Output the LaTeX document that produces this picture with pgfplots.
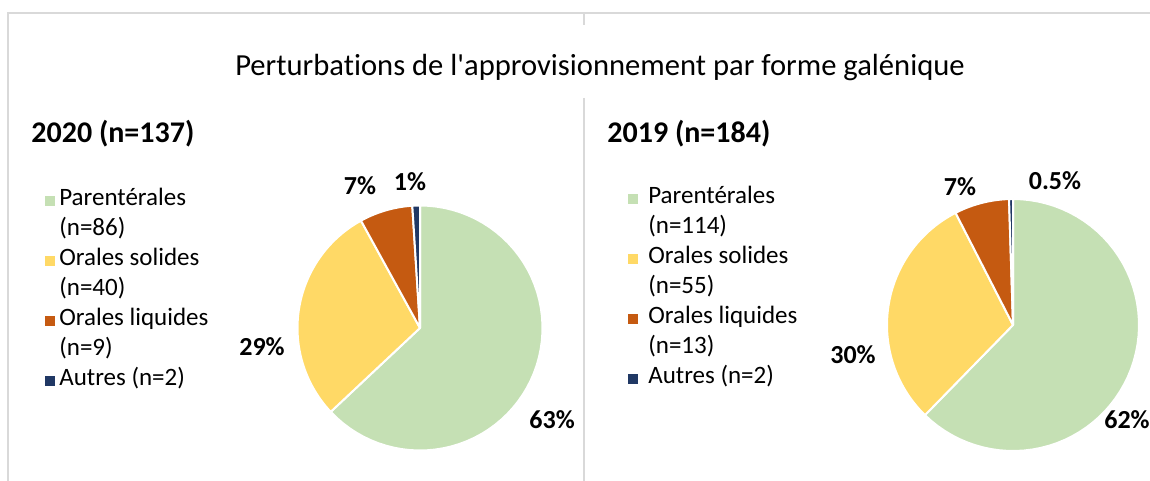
\documentclass[border=0pt]{standalone}
\usepackage{fontspec}
\setmainfont{Carlito}[Ligatures={TeXOff, NoCommon}]
\usepackage{pgfplots}
\usepackage{pgfplotstable}
\pgfplotsset{compat=1.18}

\definecolor{cParent}{HTML}{C5E0B4}
\definecolor{cSolide}{HTML}{FFD966}
\definecolor{cLiquide}{HTML}{C55A11}
\definecolor{cAutre}{HTML}{203864}
\definecolor{cFrame}{HTML}{D9D9D9}

% parts (%) as drawn in each pie, clockwise from 12 o'clock
\pgfplotstableread{
forme pct
0 63
1 29
2 7
3 1
}\dataA
\pgfplotstableread{
forme pct
0 62
1 30
2 7
3 0.5
}\dataB

\newcommand\piecol[1]{\ifcase#1 cParent\or cSolide\or cLiquide\or cAutre\fi}

% one filled sector per row of the table
\newcommand\drawpie[1]{%
  \def\tot{0}%
  \pgfplotsforeachungrouped \i in {0,...,3}{%
    \pgfplotstablegetelem{\i}{pct}\of{#1}%
    \pgfmathsetmacro\tot{\tot+\pgfplotsretval}%
  }%
  \def\cum{0}%
  \pgfplotsforeachungrouped \i in {0,...,3}{%
    \pgfplotstablegetelem{\i}{pct}\of{#1}%
    \pgfmathsetmacro\angA{90-360*(\cum/\tot)}%
    \pgfmathsetmacro\cum{\cum+\pgfplotsretval}%
    \pgfmathsetmacro\angB{90-360*(\cum/\tot)}%
    \edef\sector{\noexpand\addplot[forget plot, fill=\piecol{\i}, draw=white,
      line width=1pt, line join=round, domain=\angB:\angA, samples=60]
      ({cos(x)}, {sin(x)}) -- (axis cs:0,0) -- cycle;}%
    \sector
  }%
}

\pgfplotsset{
  pie/.style={
    hide axis, scale only axis, clip=false,
    xmin=-1, xmax=1, ymin=-1, ymax=1,
    anchor=south west,
    legend cell align=left,
    legend style={draw=none, fill=none, anchor=north west,
      inner sep=0pt, outer sep=0pt, row sep=0pt,
      nodes={inner sep=0pt, text height=10pt, text depth=5pt,
        font=\fontsize{12.5}{15}\selectfont}},
  },
  mk/.style={legend image code/.code={\fill[#1] (0pt,-2.1pt) rectangle (4.25pt,2.1pt);}},
}
\tikzset{pct/.style={font=\bfseries\fontsize{13}{15}\selectfont}}

\begin{document}
\begin{tikzpicture}
  \path[use as bounding box] (0pt,0pt) rectangle (575pt,240.5pt);
  \draw[cFrame, line width=1pt] (4pt,0pt) -- (4pt,234pt) -- (575pt,234pt);
  \draw[cFrame, line width=1pt] (292pt,234pt) -- (292pt,228pt);
  \draw[cFrame, line width=1pt] (292pt,191.5pt) -- (292pt,0pt);

  \node[anchor=base, inner sep=0pt, font=\fontsize{15.3}{18}\selectfont] at (300pt,202.5pt)
    {Perturbations de l'approvisionnement par forme galénique};
  \node[anchor=base west, inner sep=0pt, font=\bfseries\fontsize{15}{18}\selectfont]
    at (15.5pt,169pt) {2020 (n=137)};
  \node[anchor=base west, inner sep=0pt, font=\bfseries\fontsize{15}{18}\selectfont]
    at (303.5pt,169pt) {2019 (n=184)};

  \begin{axis}[pie, at={(148.75pt,15.25pt)}, width=122.5pt, height=122.5pt,
      legend style={at={(-1.0306,1.0804)}, column sep=2.5pt}]
    \drawpie{\dataA}
    \addlegendimage{mk=cParent}\addlegendentry{Parentérales}
    \addlegendimage{empty legend}\addlegendentry{(n=86)}
    \addlegendimage{mk=cSolide}\addlegendentry{Orales solides}
    \addlegendimage{empty legend}\addlegendentry{(n=40)}
    \addlegendimage{mk=cLiquide}\addlegendentry{Orales liquides}
    \addlegendimage{empty legend}\addlegendentry{(n=9)}
    \addlegendimage{mk=cAutre}\addlegendentry{Autres (n=2)}
    \node[pct] at (axis cs:1.078,-0.751) {63\%};
    \node[pct] at (axis cs:-1.290,-0.155) {29\%};
    \node[pct] at (axis cs:-0.490,1.159) {7\%};
    \node[pct] at (axis cs:-0.082,1.192) {1\%};
  \end{axis}

  \begin{axis}[pie, at={(443.5pt,15pt)}, width=126pt, height=126pt,
      legend style={at={(-1.0278,1.0603)}, column sep=5.5pt}]
    \drawpie{\dataB}
    \addlegendimage{mk=cParent}\addlegendentry{Parentérales}
    \addlegendimage{empty legend}\addlegendentry{(n=114)}
    \addlegendimage{mk=cSolide}\addlegendentry{Orales solides}
    \addlegendimage{empty legend}\addlegendentry{(n=55)}
    \addlegendimage{mk=cLiquide}\addlegendentry{Orales liquides}
    \addlegendimage{empty legend}\addlegendentry{(n=13)}
    \addlegendimage{mk=cAutre}\addlegendentry{Autres (n=2)}
    \node[pct] at (axis cs:0.905,-0.754) {62\%};
    \node[pct] at (axis cs:-1.270,-0.238) {30\%};
    \node[pct] at (axis cs:-0.421,1.095) {7\%};
    \node[pct] at (axis cs:0.333,1.143) {0.5\%};
  \end{axis}
\end{tikzpicture}
\end{document}
